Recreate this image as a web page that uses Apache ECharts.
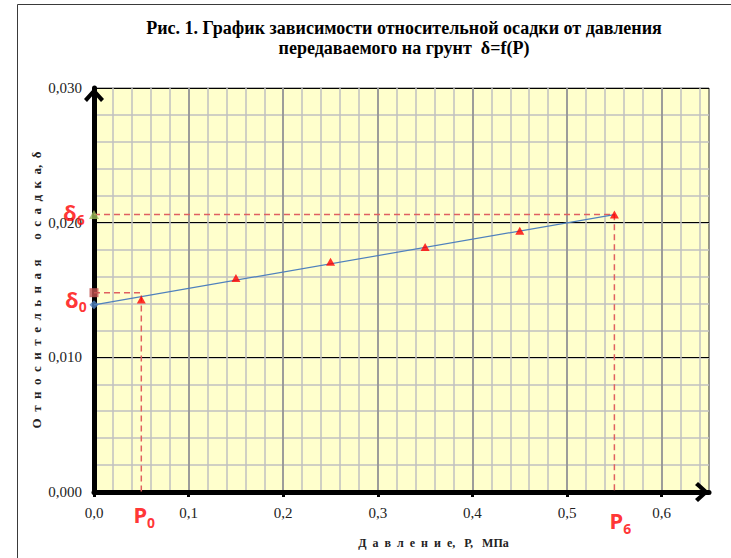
<!DOCTYPE html>
<html>
<head>
<meta charset="utf-8">
<script src="https://cdn.jsdelivr.net/npm/echarts@6/dist/echarts.min.js"></script>
<style>
  html, body { margin: 0; padding: 0; background: #ffffff; }
  #chart { width: 731px; height: 558px; }
</style>
</head>
<body>
<div id="chart"></div>
<script>
// Measured points: pressure P (MPa) and relative settlement δ
const pressure = [0.05, 0.15, 0.25, 0.35, 0.45, 0.55];
const settlement = [0.0143, 0.0159, 0.0171, 0.0182, 0.0194, 0.0206];

// Straight line through the points, from P = 0 to the last load step
const trendPressure = [0, 0.55];
const trendSettlement = [0.0139, 0.0206];

// Initial and final load steps and their settlements
const P0 = 0.05;
const P6 = 0.55;
const delta0 = 0.0148;
const delta6 = 0.0206;

// Axis tick labels
const xTickLabels = ['0,0', '0,1', '0,2', '0,3', '0,4', '0,5', '0,6'];
const yTickLabels = ['0,000', '0,010', '0,020', '0,030'];

const serif = '"Liberation Serif", "Times New Roman", serif';
const sans = '"Noto Sans", "Open Sans", sans-serif';
const chevron = 'path://M10,0 L20,11 L17,14 L10,6 L3,14 L0,11 Z';

const minorLine = { color: '#c0c0c0', width: 1.5 };
const guideColor = '#e06060';

const redLabel = (main, sub, offset) => ({
  show: true,
  position: 'inside',
  offset: offset,
  formatter: '{m|' + main + '}{s|' + sub + '}',
  rich: {
    m: { fontFamily: sans, fontWeight: 'bold', fontSize: 22, color: '#ff0000', lineHeight: 26 },
    s: { fontFamily: sans, fontWeight: 'bold', fontSize: 14, color: '#ff0000', verticalAlign: 'bottom', lineHeight: 14, padding: [0, 0, -2, 0] }
  }
});

const chart = echarts.init(document.getElementById('chart'), null, { renderer: 'svg' });

chart.setOption({
  animation: false,
  backgroundColor: '#ffffff',
  title: {
    text: 'Рис. 1. График зависимости относительной осадки от давления\nпередаваемого на грунт  δ=f(P)',
    left: 399,
    top: 13,
    textAlign: 'center',
    textStyle: { fontFamily: serif, fontWeight: 'bold', fontSize: 18, lineHeight: 20, color: '#000000' }
  },
  graphic: [{
    type: 'rect',
    shape: { x: 17.5, y: 4.5, width: 760, height: 600 },
    style: { fill: 'none', stroke: '#3a3a3a', lineWidth: 1 },
    silent: true,
    z: -10
  }],
  grid: {
    left: 94, right: 22, top: 88, bottom: 66,
    show: true,
    backgroundColor: '#ffffcc',
    borderColor: '#333333',
    borderWidth: 1
  },
  xAxis: [
    {
      type: 'value', min: 0, max: 0.65, interval: 0.02, position: 'top',
      axisLine: { show: false }, axisTick: { show: false }, axisLabel: { show: false },
      splitLine: { show: true, lineStyle: minorLine, showMaxLine: false }
    },
    {
      type: 'value', min: 0, max: 0.65, interval: 0.1, position: 'bottom',
      name: 'Д\u2002а\u2002в\u2002л\u2002е\u2002н\u2002и\u2002е,\u2002 Р,\u2002 МПа',
      nameLocation: 'middle', nameGap: 45,
      nameTextStyle: { fontFamily: serif, fontWeight: 'bold', fontSize: 12, color: '#222222', padding: [0, 0, 0, 64] },
      axisLine: {
        show: true, onZero: false,
        lineStyle: { color: '#000000', width: 5 },
        symbol: ['none', chevron], symbolSize: [20, 14], symbolOffset: [0, -7]
      },
      axisTick: { show: true, length: 5, lineStyle: { color: '#000000', width: 3 } },
      axisLabel: {
        margin: 13, fontFamily: serif, fontSize: 15, color: '#222222', showMaxLabel: false,
        formatter: v => xTickLabels[Math.round(v / 0.1)] || ''
      },
      splitLine: { show: true, lineStyle: { color: '#8c8c8c', width: 1.5 }, showMaxLine: false }
    }
  ],
  yAxis: [
    {
      type: 'value', min: 0, max: 0.03, interval: 0.002, position: 'right',
      axisLine: { show: false }, axisTick: { show: false }, axisLabel: { show: false },
      splitLine: { show: true, lineStyle: minorLine }
    },
    {
      type: 'value', min: 0, max: 0.03, interval: 0.01, position: 'left',
      name: 'О\u2002т\u2002н\u2002о\u2002с\u2002и\u2002т\u2002е\u2002л\u2002ь\u2002н\u2002а\u2002я\u2002\u2002\u2002о\u2002с\u2002а\u2002д\u2002к\u2002а,\u2002δ',
      nameLocation: 'middle', nameGap: 51, nameRotate: 90, nameMoveOverlap: false,
      nameTextStyle: { fontFamily: serif, fontWeight: 'bold', fontSize: 13, color: '#222222' },
      axisLine: {
        show: true, onZero: false,
        lineStyle: { color: '#000000', width: 5 },
        symbol: ['none', chevron], symbolSize: [22, 14], symbolOffset: [0, -7]
      },
      axisTick: { show: false },
      axisLabel: {
        margin: 12, fontFamily: serif, fontSize: 15, color: '#222222',
        formatter: v => yTickLabels[Math.round(v / 0.01)] || ''
      },
      splitLine: { show: true, lineStyle: { color: '#000000', width: 1 } }
    }
  ],
  series: [
    {
      name: 'δ0 guide', type: 'line', xAxisIndex: 1, yAxisIndex: 1,
      data: [[0, delta0], [P0, delta0], [P0, 0]],
      symbol: 'none', lineStyle: { color: guideColor, width: 1.5, type: [6, 4] }, z: 3
    },
    {
      name: 'δ6 guide', type: 'line', xAxisIndex: 1, yAxisIndex: 1,
      data: [[0, delta6], [P6, delta6], [P6, 0]],
      symbol: 'none', lineStyle: { color: guideColor, width: 1.5, type: [6, 4] }, z: 3
    },
    {
      name: 'trend', type: 'line', xAxisIndex: 1, yAxisIndex: 1,
      data: trendPressure.map((p, i) => [p, trendSettlement[i]]),
      symbol: 'none', lineStyle: { color: '#4f81bd', width: 1.2 }, z: 4
    },
    {
      name: 'δ', type: 'scatter', xAxisIndex: 1, yAxisIndex: 1,
      data: pressure.map((p, i) => [p, settlement[i]]),
      symbol: 'triangle', symbolSize: [9, 8], itemStyle: { color: '#ff0000' }, z: 5
    },
    {
      name: 'axis marks', type: 'scatter', xAxisIndex: 1, yAxisIndex: 1, z: 6,
      data: [
        { value: [0, trendSettlement[0]], symbol: 'diamond', symbolSize: 9, itemStyle: { color: '#4f81bd' } },
        { value: [0, delta0], symbol: 'rect', symbolSize: 9, itemStyle: { color: '#c0504d' } },
        { value: [0, delta6], symbol: 'triangle', symbolSize: [10, 9], itemStyle: { color: '#9bbb59' } }
      ]
    },
    {
      name: 'labels', type: 'scatter', xAxisIndex: 1, yAxisIndex: 1, z: 7,
      symbolSize: 0, itemStyle: { color: 'transparent' },
      data: [
        { value: [0, delta0], label: redLabel('δ', '0', [-18, 6]) },
        { value: [0, delta6], label: redLabel('δ', '6', [-20, -3]) },
        { value: [P0, 0], label: redLabel('P', '0', [3, 22]) },
        { value: [P6, 0], label: redLabel('P', '6', [6, 28]) }
      ]
    }
  ]
});
</script>
</body>
</html>
